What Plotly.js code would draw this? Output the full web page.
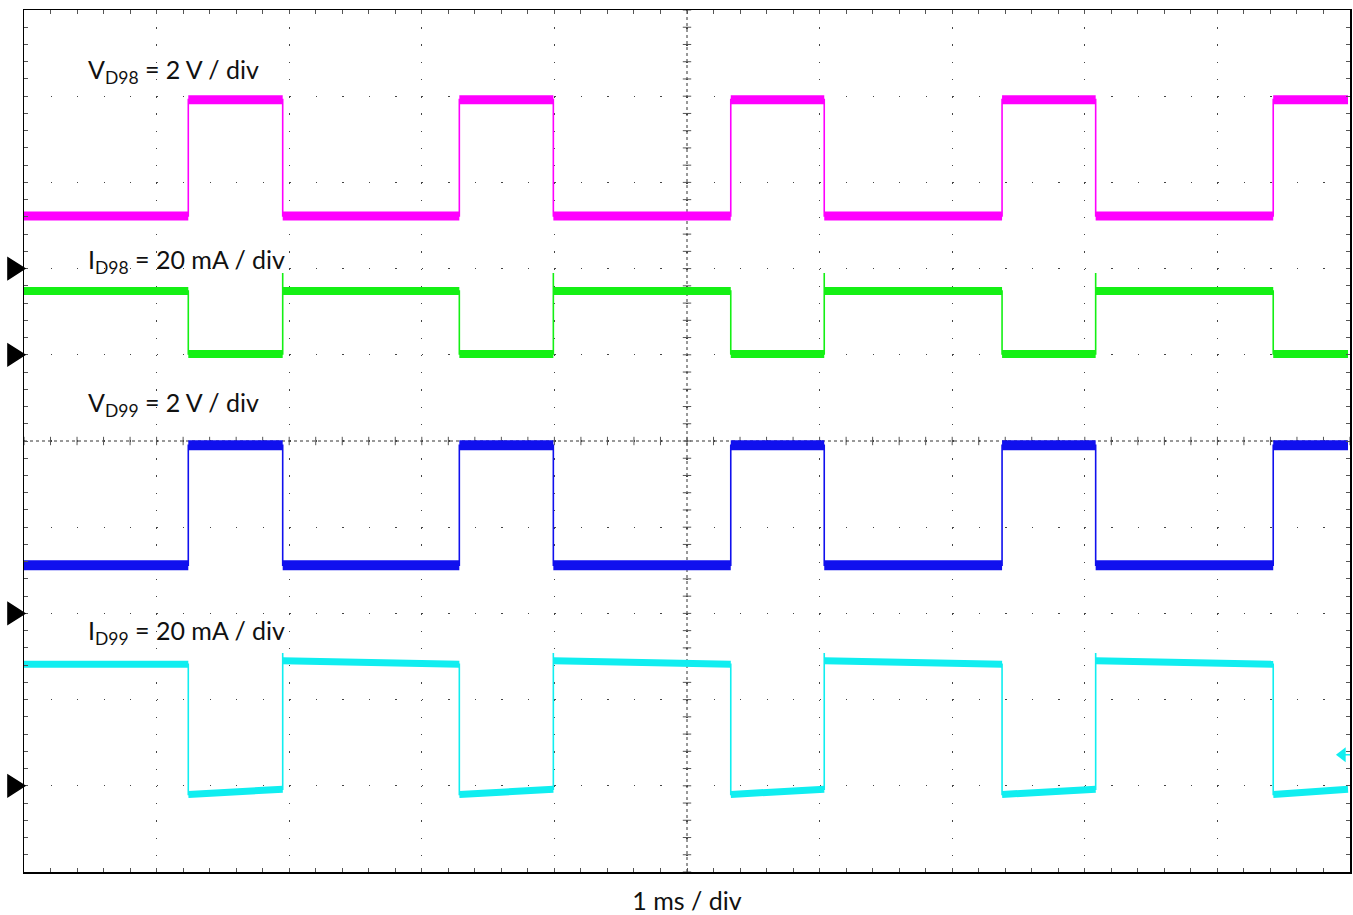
<!DOCTYPE html>
<html>
<head>
<meta charset="utf-8">
<script src="https://cdn.plot.ly/plotly-3.0.1.min.js"></script>
<style>
  html, body { margin: 0; padding: 0; background: #ffffff; }
  #chart { width: 1353px; height: 915px; }
</style>
</head>
<body>
<div id="chart"></div>
<script>
// ---- Data (time in ms = horizontal divisions, levels in vertical screen divisions, 0 = bottom) ----
const edgeTimes = [1.239, 1.951, 3.283, 3.992, 5.330, 6.035, 7.376, 8.082, 9.421]; // switching instants, ms
const traceStart = 0.0;
const traceEnd = 9.985;

// [level at segment start, level at segment end]
const vd98Low  = [7.61, 7.61];
const vd98High = [8.96, 8.96];
const id98High = [6.74, 6.74];
const id98Low  = [6.01, 6.01];
const id98Overshoot = 6.95;
const vd99Low  = [3.56, 3.56];
const vd99High = [4.95, 4.95];
const id99High = [2.45, 2.41];
const id99Low  = [0.90, 0.96];
const id99Overshoot = 2.54;

const channelMarkers = [7, 6, 3, 1];   // ground reference arrows (div)
const triggerLevel = [1.36];           // trigger arrow (div)

const labelTexts = ['V<sub>D98</sub> = 2 V / div', 'I<sub>D98</sub> = 20 mA / div',
                    'V<sub>D99</sub> = 2 V / div', 'I<sub>D99</sub> = 20 mA / div'];
const labelLevels = [9.29, 7.09, 5.43, 2.78];
const timeScaleText = '1 ms / div';

// ---- build step waveforms ----
function buildSignal(startHigh, low, high, overshoot) {
  const b = [traceStart].concat(edgeTimes).concat([traceEnd]);
  const thickX = [], thickY = [], thinX = [], thinY = [];
  for (let i = 0; i < b.length - 1; i++) {
    const isHigh = (i % 2 === 0) ? startHigh : !startHigh;
    const lv = isHigh ? high : low;
    const s = (i === 0) ? lv[1] : lv[0];
    const e = lv[1];
    thickX.push(b[i], b[i + 1], null);
    thickY.push(s, e, null);
    thinX.push(b[i], b[i + 1]);
    thinY.push(s, e);
    if (overshoot !== undefined && !isHigh && i < b.length - 2) {
      thinX.push(b[i + 1]);
      thinY.push(overshoot);
    }
  }
  return { thickX, thickY, thinX, thinY };
}

const signals = [
  { sig: buildSignal(false, vd98Low, vd98High), color: '#ff00ff', w: 9 },
  { sig: buildSignal(true, id98Low, id98High, id98Overshoot), color: '#14f014', w: 8 },
  { sig: buildSignal(false, vd99Low, vd99High), color: '#1010ee', w: 10 },
  { sig: buildSignal(true, id99Low, id99High, id99Overshoot), color: '#10eef0', w: 7 }
];

const traces = [];

// center-line cross ticks (graticule decoration)
const cx = [], cy = [], vx = [], vy = [];
for (let k = 0; k <= 50; k++) { cx.push(k * 0.2); cy.push(5); vx.push(5); vy.push(k * 0.2); }
traces.push({ x: cx, y: cy, mode: 'markers', type: 'scatter', hoverinfo: 'skip',
  marker: { symbol: 'line-ns', size: 6, line: { width: 1, color: '#555' } } });
traces.push({ x: vx, y: vy, mode: 'markers', type: 'scatter', hoverinfo: 'skip',
  marker: { symbol: 'line-ew', size: 6, line: { width: 1, color: '#555' } } });

signals.forEach(s => {
  traces.push({ x: s.sig.thinX, y: s.sig.thinY, mode: 'lines', type: 'scatter', hoverinfo: 'skip',
    line: { color: s.color, width: 1.6 } });
  traces.push({ x: s.sig.thickX, y: s.sig.thickY, mode: 'lines', type: 'scatter', hoverinfo: 'skip',
    connectgaps: false, line: { color: s.color, width: s.w } });
});

// trigger arrow on the right
traces.push({ x: [9.943, 10], y: [triggerLevel[0], triggerLevel[0]], mode: 'lines', type: 'scatter',
  cliponaxis: false, hoverinfo: 'skip', line: { color: '#10eef0', width: 1.5 } });
traces.push({ x: [9.943], y: triggerLevel, mode: 'markers', type: 'scatter', cliponaxis: false,
  hoverinfo: 'skip', marker: { symbol: 'triangle-left', size: 13, color: '#10eef0' } });

const labelFont = { family: 'Lato, "Open Sans", sans-serif', size: 25, color: '#111111' };

const annotations = labelTexts.map((t, i) => ({
  x: 0.47, y: labelLevels[i], xref: 'x', yref: 'y', text: t, showarrow: false,
  xanchor: 'left', yanchor: 'middle', font: labelFont
}));

// ground-reference arrows drawn in the left margin (paper x, data y)
const arrowShapes = channelMarkers.map(v => ({
  type: 'path', xref: 'paper', yref: 'y', layer: 'above',
  path: 'M -0.0121,' + (v + 0.125) + ' L 0.0006,' + v + ' L -0.0121,' + (v - 0.125) + ' Z',
  fillcolor: '#000000', line: { color: '#000000', width: 1.5 }
}));

const axisCommon = {
  showline: true, mirror: 'allticks', linecolor: '#000000', linewidth: 1.5,
  zeroline: false, showticklabels: false, ticks: 'inside', ticklen: 4, tickcolor: '#555',
  tickwidth: 1, fixedrange: true, showgrid: true, gridcolor: '#444', gridwidth: 1.3
};

const layout = {
  width: 1353, height: 915,
  margin: { l: 24, r: 3, t: 10, b: 43 },
  paper_bgcolor: '#ffffff', plot_bgcolor: '#ffffff',
  showlegend: false, hovermode: false,
  xaxis: Object.assign({}, axisCommon, {
    range: [0, 10], dtick: 1, tick0: 0, griddash: '1.3px,15.94px',
    minor: { dtick: 0.2, ticks: 'inside', ticklen: 4, tickcolor: '#555', showgrid: false },
    title: { text: timeScaleText, font: labelFont, standoff: 22 }
  }),
  yaxis: Object.assign({}, axisCommon, {
    range: [0, 10], dtick: 1, tick0: 0, griddash: '1.3px,25.22px',
    minor: { dtick: 0.2, ticks: 'inside', ticklen: 4, tickcolor: '#555', showgrid: false }
  }),
  shapes: [
    { type: 'line', xref: 'x', yref: 'y', x0: 5, x1: 5, y0: 0, y1: 10, layer: 'below',
      line: { color: '#333', width: 1, dash: 'dot' } },
    { type: 'line', xref: 'x', yref: 'y', x0: 0, x1: 10, y0: 5, y1: 5, layer: 'below',
      line: { color: '#333', width: 1, dash: 'dot' } }
  ].concat(arrowShapes),
  annotations: annotations
};

Plotly.newPlot('chart', traces, layout, { staticPlot: true, displayModeBar: false });
</script>
</body>
</html>
